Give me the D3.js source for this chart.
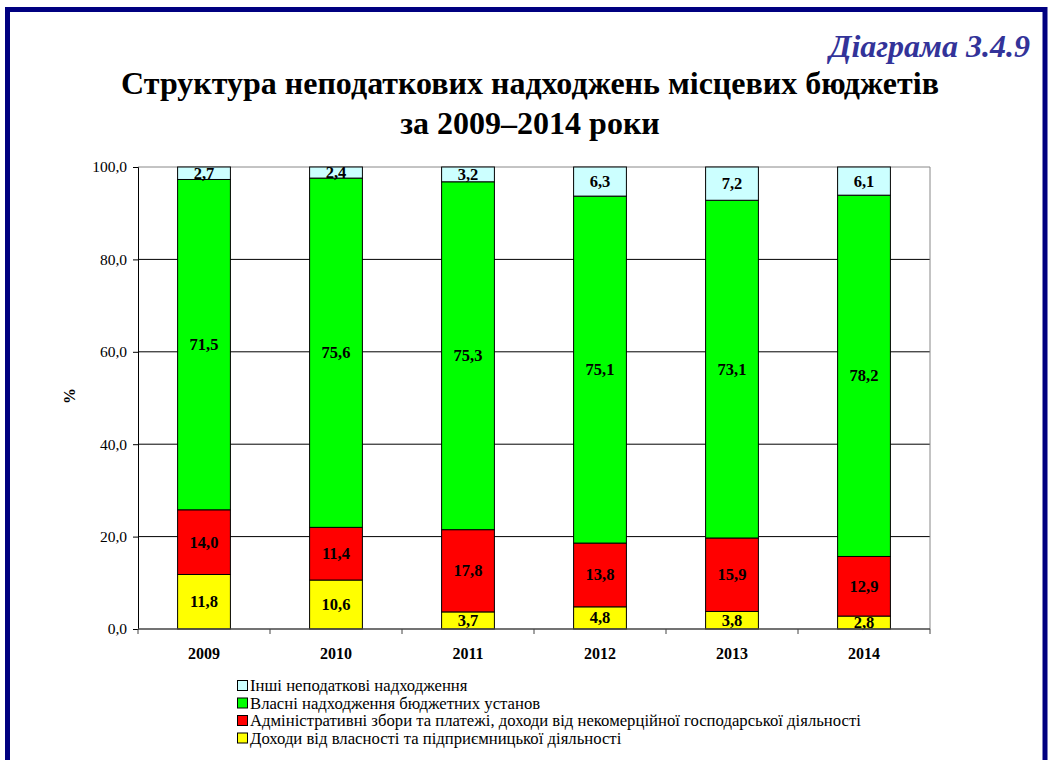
<!DOCTYPE html>
<html><head><meta charset="utf-8">
<script src="https://cdn.jsdelivr.net/npm/d3@7"></script>
<style>body{margin:0;background:#fff;}svg{display:block;} text{font-family:"Liberation Serif","Times New Roman",serif;}</style>
</head><body>
<script>
const years = ["2009","2010","2011","2012","2013","2014"];
const seriesNames = [
  "Доходи від власності та підприємницької діяльності",
  "Адміністративні збори та платежі, доходи від некомерційної господарської діяльності",
  "Власні надходження бюджетних установ",
  "Інші неподаткові надходження"
];
const incomeProperty = [11.8, 10.6, 3.7, 4.8, 3.8, 2.8];
const adminFees = [14.0, 11.4, 17.8, 13.8, 15.9, 12.9];
const ownRevenue = [71.5, 75.6, 75.3, 75.1, 73.1, 78.2];
const otherRevenue = [2.7, 2.4, 3.2, 6.3, 7.2, 6.1];
const colors = ["#ffff00", "#ff0000", "#00ff00", "#ccffff"];
const yTicks = [0, 20, 40, 60, 80, 100];

const W = 1050, H = 760;
const svg = d3.select("body").append("svg").attr("width", W).attr("height", H);

// frame
svg.append("rect").attr("x", 7.5).attr("y", 9.5).attr("width", 1037.5).attr("height", 800)
  .attr("fill", "none").attr("stroke", "#000080").attr("stroke-width", 5);

svg.append("text").attr("x", 1030).attr("y", 57).attr("text-anchor", "end")
  .style("font-size", "32px").style("font-weight", "bold").style("font-style", "italic")
  .attr("fill", "#333399").text("Діаграма 3.4.9");

svg.append("text").attr("x", 530).attr("y", 94).attr("text-anchor", "middle")
  .style("font-size", "32px").style("font-weight", "bold")
  .text("Структура неподаткових надходжень місцевих бюджетів");
svg.append("text").attr("x", 530).attr("y", 134).attr("text-anchor", "middle")
  .style("font-size", "32px").style("font-weight", "bold")
  .text("за 2009–2014 роки");

const L = 138, R = 930, T = 167, B = 629;
const x = d3.scaleBand().domain(years).range([L, R]).paddingInner(0.6).paddingOuter(0.3);
const xb = d3.scaleBand().domain(years).range([L, R]);
const y = d3.scaleLinear().domain([0, 100]).range([B, T]);

// gridlines
svg.append("g").selectAll("line").data(yTicks.filter(t => t > 0 && t < 100)).join("line")
  .attr("x1", L).attr("x2", R).attr("y1", d => y(d)).attr("y2", d => y(d))
  .attr("stroke", "#000").attr("stroke-width", 1);
// plot border top/right
svg.append("line").attr("x1", L).attr("x2", R).attr("y1", T).attr("y2", T).attr("stroke", "#888");
svg.append("line").attr("x1", R).attr("x2", R).attr("y1", T).attr("y2", B).attr("stroke", "#888");

const table = years.map((yr, i) => ({year: yr, v: [incomeProperty[i], adminFees[i], ownRevenue[i], otherRevenue[i]]}));
const keys = [0,1,2,3];
const stack = d3.stack().keys(keys).value((d, k) => d.v[k]);
const layers = stack(table);

const g = svg.append("g");
layers.forEach((layer, li) => {
  g.append("g").selectAll("rect").data(layer).join("rect")
    .attr("x", d => x(d.data.year)).attr("width", x.bandwidth())
    .attr("y", d => y(d[1])).attr("height", d => y(d[0]) - y(d[1]))
    .attr("fill", colors[li]).attr("stroke", "#000").attr("stroke-width", 1);
});
layers.forEach((layer, li) => {
  g.append("g").selectAll("text").data(layer).join("text")
    .attr("x", d => x(d.data.year) + x.bandwidth() / 2)
    .attr("y", d => (y(d[0]) + y(d[1])) / 2 + 5.5)
    .attr("text-anchor", "middle").style("font-size", "16.5px").style("font-weight", "bold")
    .text(d => d3.format(".1f")(d[1] - d[0]).replace(".", ","));
});

// y axis
const yAxis = d3.axisLeft(y).tickValues(yTicks).tickSize(5).tickFormat(d => d3.format(".1f")(d).replace(".", ","));
const ya = svg.append("g").attr("transform", `translate(${L},0)`).call(yAxis);
ya.attr("font-family", null).attr("font-size", null);
ya.select(".domain").attr("stroke", "#000");
ya.selectAll("text").style("font-size", "15.5px").attr("fill", "#000").attr("dx", -3);
ya.selectAll("line").attr("stroke", "#000");

// x axis
const xa = svg.append("g").attr("transform", `translate(0,${B})`);
xa.append("line").attr("x1", L).attr("x2", R).attr("stroke", "#444").attr("stroke-width", 1.5);
xa.selectAll("line.t").data(years.concat(["end"])).join("line").attr("class", "t")
  .attr("x1", (d, i) => L + i * xb.bandwidth()).attr("x2", (d, i) => L + i * xb.bandwidth())
  .attr("y1", 0).attr("y2", 5).attr("stroke", "#444");
xa.selectAll("text").data(years).join("text")
  .attr("x", d => xb(d) + xb.bandwidth() / 2).attr("y", 30)
  .attr("text-anchor", "middle").style("font-size", "16px").style("font-weight", "bold")
  .text(d => d);

svg.append("text").attr("transform", "translate(75,396) rotate(-90)").attr("text-anchor", "middle")
  .style("font-size", "16px").style("font-weight", "bold").text("%");

// legend
const legendOrder = [3, 2, 1, 0];
const lg = svg.append("g");
legendOrder.forEach((si, i) => {
  const yy = 686 + i * 17.5;
  lg.append("rect").attr("x", 237.5).attr("y", yy - 5.5).attr("width", 10).attr("height", 10)
    .attr("fill", colors[si]).attr("stroke", "#000");
  lg.append("text").attr("x", 250).attr("y", yy + 5).style("font-size", "16.7px")
    .text(seriesNames[si]);
});
</script>
</body></html>
